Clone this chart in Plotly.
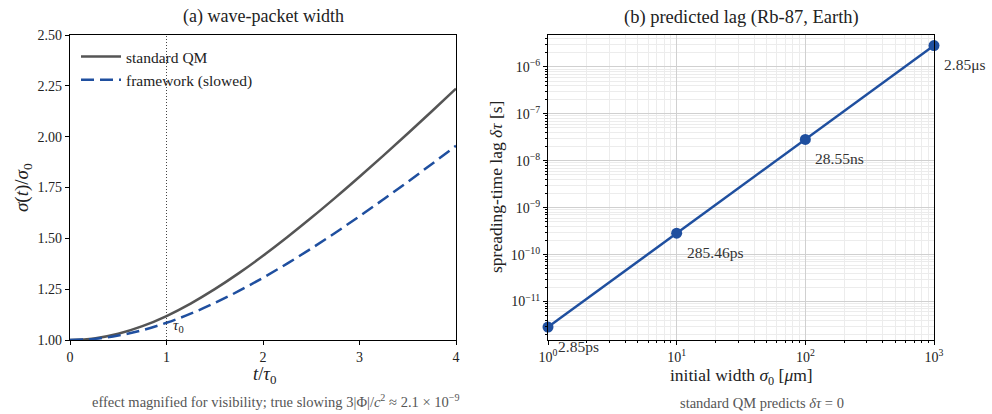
import math
import plotly.graph_objects as go

# ---- data ----
t_vals = [0, 0.25, 0.5, 0.75, 1.0, 1.25, 1.5, 1.75, 2.0, 2.25, 2.5, 2.75, 3.0, 3.25, 3.5, 3.75, 4.0]
sigma_std = [1.000, 1.0078, 1.0308, 1.0680, 1.1180, 1.1792, 1.2500, 1.3288, 1.4142, 1.5052,
             1.6008, 1.7002, 1.8028, 1.9081, 2.0156, 2.1250, 2.2361]
sigma_fw = [1.000, 1.0055, 1.0218, 1.0484, 1.0846, 1.1294, 1.1819, 1.2412, 1.3060, 1.3759,
            1.4500, 1.5278, 1.6086, 1.6921, 1.7779, 1.8657, 1.9551]

width_um = [1, 10, 100, 1000]
lag_s = [2.85e-12, 2.8546e-10, 2.855e-8, 2.85e-6]
lag_labels = ["2.85ps", "285.46ps", "28.55ns", "2.85μs"]

left_yticks = [1.00, 1.25, 1.50, 1.75, 2.00, 2.25, 2.50]
left_xticks = [0, 1, 2, 3, 4]
right_xtickvals = [1, 10, 100, 1000]
right_xticktext = ["10<sup>0</sup>", "10<sup>1</sup>", "10<sup>2</sup>", "10<sup>3</sup>"]
right_ytickvals = [1e-11, 1e-10, 1e-9, 1e-8, 1e-7, 1e-6]
right_yticktext = ["10<sup>−11</sup>", "10<sup>−10</sup>", "10<sup>−9</sup>", "10<sup>−8</sup>",
                   "10<sup>−7</sup>", "10<sup>−6</sup>"]

FONT = "Liberation Serif"
BLUE = "#1f4f9f"
GRAY = "#555555"
W, H = 992, 414

def px_x(p):
    return p / W

def px_y(p):
    return 1 - p / H

fig = go.Figure()

fig.add_trace(go.Scatter(x=t_vals, y=sigma_std, mode="lines", name="standard QM",
                         line=dict(color=GRAY, width=2.5, shape="spline"),
                         xaxis="x", yaxis="y"))
fig.add_trace(go.Scatter(x=t_vals, y=sigma_fw, mode="lines", name="framework (slowed)",
                         line=dict(color=BLUE, width=2.5, dash="13px,6px", shape="spline"),
                         xaxis="x", yaxis="y"))

fig.add_trace(go.Scatter(x=width_um, y=lag_s, mode="lines+markers", showlegend=False,
                         line=dict(color=BLUE, width=2.5),
                         marker=dict(color=BLUE, size=11),
                         cliponaxis=False,
                         xaxis="x2", yaxis="y2"))

axis_common = dict(showline=True, linecolor="black", linewidth=1.2, mirror=True,
                   ticks="outside", ticklen=4, tickcolor="black", tickwidth=1,
                   automargin=False,
                   tickfont=dict(family=FONT, size=14, color="#222"))

minor_common = dict(ticks="outside", ticklen=2, tickcolor="black", tickwidth=0.8, dtick="D1",
                    showgrid=True, gridcolor="#ececec", gridwidth=1)

fig.update_layout(
    template="none",
    width=W, height=H,
    margin=dict(l=0, r=0, t=0, b=0, autoexpand=False),
    paper_bgcolor="white", plot_bgcolor="white",
    font=dict(family=FONT, size=14, color="#222"),
    xaxis=dict(domain=[px_x(70), px_x(456)], range=[0, 4], tickvals=left_xticks,
               showgrid=False, zeroline=False, anchor="y", **axis_common),
    yaxis=dict(domain=[px_y(340), px_y(35)], range=[1.0, 2.5], tickvals=left_yticks,
               tickformat=".2f", showgrid=False, zeroline=False, anchor="x", **axis_common),
    xaxis2=dict(domain=[px_x(548), px_x(934)], type="log", range=[0, 3],
                tickvals=right_xtickvals, ticktext=right_xticktext,
                showgrid=True, gridcolor="#d0d0d0", gridwidth=1, zeroline=False, anchor="y2",
                minor=minor_common, **axis_common),
    yaxis2=dict(domain=[px_y(340), px_y(35)], type="log", range=[-11.82, -5.32],
                tickvals=right_ytickvals, ticktext=right_yticktext,
                showgrid=True, gridcolor="#d0d0d0", gridwidth=1, zeroline=False, anchor="x2",
                minor=minor_common, **axis_common),
    legend=dict(x=px_x(76), y=px_y(40), xanchor="left", yanchor="top",
                bgcolor="rgba(255,255,255,0)", borderwidth=0,
                font=dict(family=FONT, size=15.5, color="#222"),
                itemwidth=40, tracegroupgap=2),
    showlegend=True,
)

# dotted tau0 line
fig.add_shape(type="line", x0=1, x1=1, y0=1.0, y1=2.5, xref="x", yref="y",
              line=dict(color="#444", width=1, dash="1px,2px"))
fig.add_annotation(x=1.05, y=1.07, xref="x", yref="y", text="<i>τ</i><sub>0</sub>",
                   showarrow=False, xanchor="left", yanchor="middle",
                   font=dict(family=FONT, size=15, color="#222"))

# point labels
for xv, yv, lab in zip(width_um, lag_s, lag_labels):
    fig.add_annotation(x=math.log10(xv), y=math.log10(yv), xref="x2", yref="y2", text=lab,
                       showarrow=False, xanchor="left", yanchor="middle",
                       xshift=8, yshift=-19,
                       font=dict(family=FONT, size=15.5, color="#333"))

# titles
fig.add_annotation(x=px_x(263), y=px_y(17), xref="paper", yref="paper",
                   text="(a) wave-packet width", showarrow=False,
                   xanchor="center", yanchor="middle",
                   font=dict(family=FONT, size=18, color="#222"))
fig.add_annotation(x=px_x(741), y=px_y(18), xref="paper", yref="paper",
                   text="(b) predicted lag (Rb-87, Earth)", showarrow=False,
                   xanchor="center", yanchor="middle",
                   font=dict(family=FONT, size=18.5, color="#222"))

# axis titles
fig.add_annotation(x=px_x(264), y=px_y(375), xref="paper", yref="paper",
                   text="<i>t</i>/<i>τ</i><sub>0</sub>", showarrow=False,
                   xanchor="center", yanchor="middle",
                   font=dict(family=FONT, size=18.5, color="#222"))
fig.add_annotation(x=px_x(23), y=px_y(188), xref="paper", yref="paper",
                   text="<i>σ</i>(<i>t</i>)/<i>σ</i><sub>0</sub>", showarrow=False,
                   textangle=-90, xanchor="center", yanchor="middle",
                   font=dict(family=FONT, size=19, color="#222"))
fig.add_annotation(x=px_x(741), y=px_y(376), xref="paper", yref="paper",
                   text="initial width <i>σ</i><sub>0</sub> [<i>μ</i>m]", showarrow=False,
                   xanchor="center", yanchor="middle",
                   font=dict(family=FONT, size=17.5, color="#222"))
fig.add_annotation(x=px_x(496), y=px_y(187), xref="paper", yref="paper",
                   text="spreading-time lag <i>δτ</i> [s]", showarrow=False,
                   textangle=-90, xanchor="center", yanchor="middle",
                   font=dict(family=FONT, size=17.5, color="#222"))

# captions
fig.add_annotation(x=px_x(275), y=px_y(401), xref="paper", yref="paper",
                   text="effect magnified for visibility; true slowing 3|Φ|/<i>c</i><sup>2</sup> ≈ 2.1 × 10<sup>−9</sup>",
                   showarrow=False, xanchor="center", yanchor="middle",
                   font=dict(family=FONT, size=14.5, color="#555"))
fig.add_annotation(x=px_x(762), y=px_y(403), xref="paper", yref="paper",
                   text="standard QM predicts <i>δτ</i> = 0",
                   showarrow=False, xanchor="center", yanchor="middle",
                   font=dict(family=FONT, size=14.5, color="#555"))

fig.write_html("out.html", config={"displayModeBar": False},
               post_script="document.body.style.margin='0';document.body.style.overflow='hidden';")
